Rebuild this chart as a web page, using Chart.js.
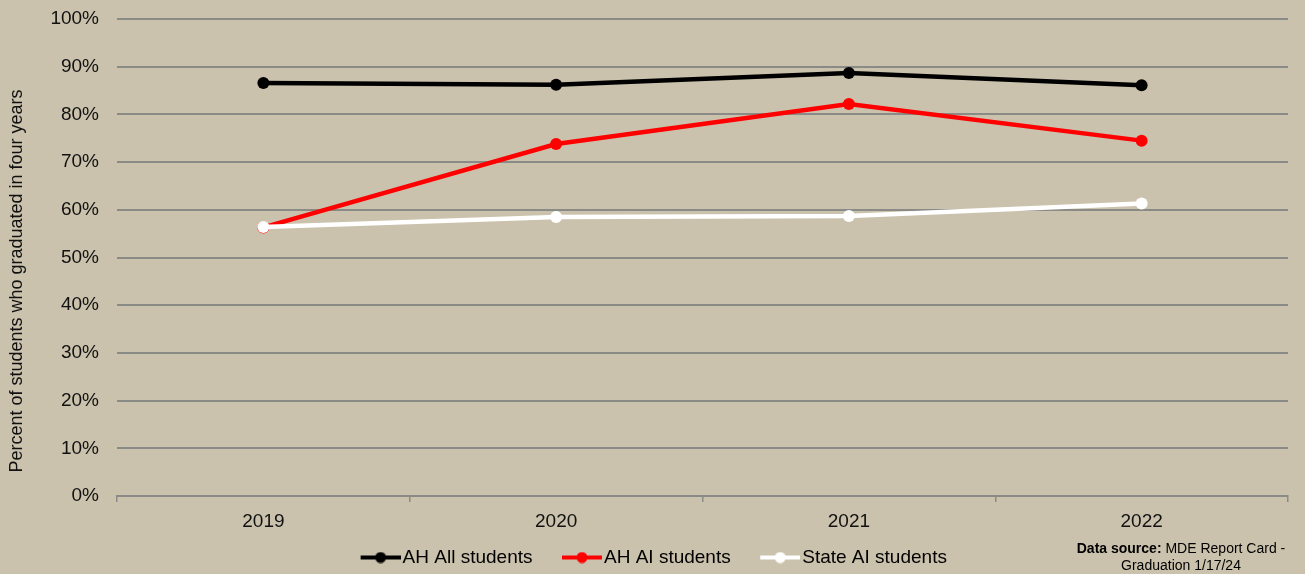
<!DOCTYPE html>
<html>
<head>
<meta charset="utf-8">
<script src="https://cdn.jsdelivr.net/npm/chart.js@4/dist/chart.umd.min.js"></script>
<style>
  html, body { margin: 0; padding: 0; background: #cbc2ad; }
  #wrap { width: 1305px; height: 574px; }
</style>
</head>
<body>
<div id="wrap"><canvas id="gradChart"></canvas></div>
<script>
const years = ['2019', '2020', '2021', '2022'];
const ahAll = [86.6, 86.2, 88.7, 86.1];
const ahAI = [56.3, 73.8, 82.2, 74.5];
const stateAI = [56.4, 58.5, 58.7, 61.3];
const seriesNames = ['AH All students', 'AH AI students', 'State AI students'];
const seriesColors = ['#000000', '#ff0000', '#ffffff'];

const fontFam = '"Liberation Sans", Arial, sans-serif';
const gridGrey = '#8a8a86';
const yTitle = 'Percent of students who graduated in four years';

// legend marker: short line with a dot, pushed to the right of a wider box
// so that there is space before each item and little gap before the text
function makeMarker(color) {
  const c = document.createElement('canvas');
  c.width = 67; c.height = 12;
  const ctx = c.getContext('2d');
  ctx.strokeStyle = color;
  ctx.lineWidth = 4;
  ctx.beginPath();
  ctx.moveTo(27, 6); ctx.lineTo(67, 6);
  ctx.stroke();
  ctx.fillStyle = color;
  ctx.beginPath();
  ctx.arc(47, 6, 5.5, 0, Math.PI * 2);
  ctx.fill();
  return c;
}
const markers = seriesColors.map(makeMarker);

const sideText = {
  id: 'sideText',
  afterDraw(chart) {
    const ctx = chart.ctx;
    ctx.save();
    ctx.fillStyle = '#000';
    ctx.textBaseline = 'middle';

    // rotated axis title
    ctx.save();
    ctx.translate(17, 281);
    ctx.rotate(-Math.PI / 2);
    ctx.textAlign = 'center';
    ctx.font = '18px ' + fontFam;
    ctx.fillStyle = '#111';
    ctx.fillText(yTitle, 0, 0);
    ctx.restore();

    // source note, bottom right
    const bold = 'bold 14px ' + fontFam;
    const reg = '14px ' + fontFam;
    const a = 'Data source: ';
    const b = 'MDE Report Card -';
    ctx.font = bold;
    const wa = ctx.measureText(a).width;
    ctx.font = reg;
    const wb = ctx.measureText(b).width;
    const cx = 1181;
    const x = cx - (wa + wb) / 2;
    ctx.font = bold;
    ctx.textAlign = 'left';
    ctx.fillText(a, x, 549);
    ctx.font = reg;
    ctx.fillText(b, x + wa, 549);
    ctx.textAlign = 'center';
    ctx.fillText('Graduation 1/17/24', cx, 566);
    ctx.restore();
  }
};

const mkSet = (i, data, order) => ({
  label: seriesNames[i],
  data: data,
  borderColor: seriesColors[i],
  backgroundColor: seriesColors[i],
  borderWidth: 4.5,
  pointRadius: 6,
  pointHoverRadius: 6,
  pointBorderWidth: 0,
  tension: 0,
  order: order
});

new Chart(document.getElementById('gradChart'), {
  type: 'line',
  data: {
    labels: years,
    datasets: [
      mkSet(0, ahAll, 2),
      mkSet(1, ahAI, 1),
      mkSet(2, stateAI, 0)
    ]
  },
  options: {
    responsive: true,
    maintainAspectRatio: false,
    animation: false,
    layout: { padding: { top: 19, right: 17, left: 0, bottom: -3 } },
    scales: {
      x: {
        offset: true,
        grid: { drawOnChartArea: false, drawTicks: true, tickLength: 6, color: gridGrey, lineWidth: 1.5, offset: true },
        border: { color: gridGrey, width: 2 },
        ticks: { color: '#111', font: { family: fontFam, size: 19 }, padding: 8 },
        afterFit(scale) { scale.height = 42; }
      },
      y: {
        min: 0,
        max: 100,
        grid: { color: gridGrey, lineWidth: 2, drawTicks: true, tickLength: 16, tickColor: 'rgba(0,0,0,0)' },
        border: { display: false },
        ticks: {
          stepSize: 10,
          padding: 2,
          color: '#111',
          font: { family: fontFam, size: 19 },
          callback: v => v + '%'
        },
        afterFit(scale) { scale.width = 117; }
      }
    },
    plugins: {
      tooltip: { enabled: false },
      legend: {
        position: 'bottom',
        labels: {
          usePointStyle: true,
          pointStyleWidth: 52,
          boxHeight: 12,
          padding: 10,
          color: '#000',
          font: { family: fontFam, size: 19 },
          generateLabels(chart) {
            const items = Chart.defaults.plugins.legend.labels.generateLabels(chart);
            items.sort((p, q) => p.datasetIndex - q.datasetIndex);
            items.forEach(it => { it.pointStyle = markers[it.datasetIndex]; });
            return items;
          }
        }
      }
    }
  },
  plugins: [sideText]
});
</script>
</body>
</html>
